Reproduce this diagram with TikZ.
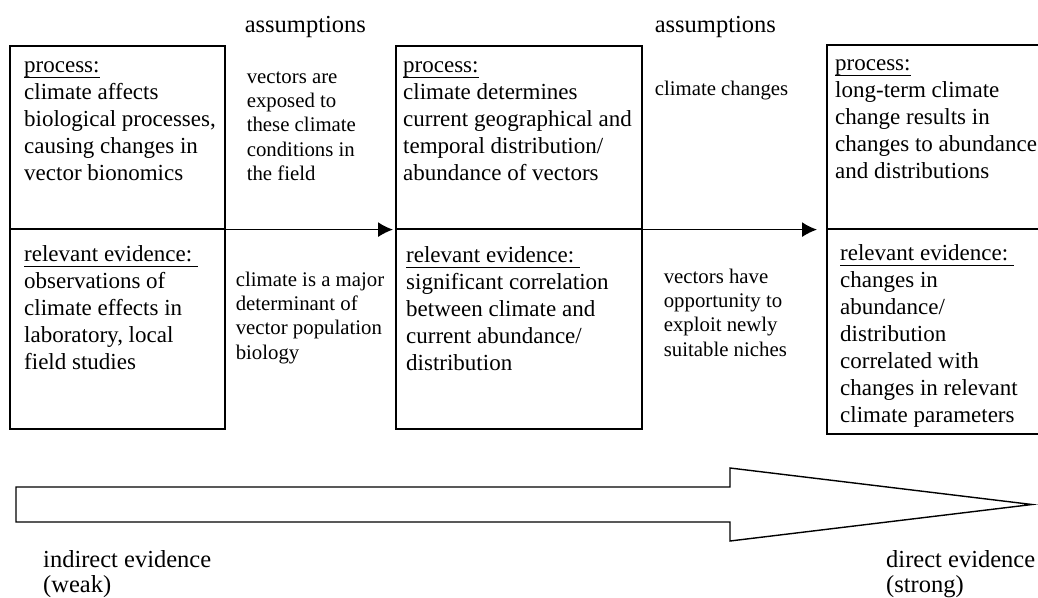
\documentclass[tikz,border=0pt]{standalone}
\usepackage{fontspec}
\setmainfont{Liberation Serif}
\usetikzlibrary{arrows.meta}
\usetikzlibrary{calc}
\newsavebox\hdbox
\newcommand\hd[1]{\sbox\hdbox{#1}\rlap{\rule[-5.7pt]{\wd\hdbox}{1.4pt}}\usebox\hdbox}
\tikzset{box/.style={draw = black, line width = 1.6pt, inner sep = 0, anchor = north west}}
% text is placed by the baseline of its first line (each text starts with a \strut)
\tikzset{boxtext/.style={anchor = north west, yshift = 18.9pt, inner sep = 0, align = left,
  font = \fontsize{23}{27}\selectfont}}
\tikzset{assumtext/.style={anchor = north west, yshift = 17pt, inner sep = 0, align = left,
  font = \fontsize{20.8}{24.3}\selectfont}}
\tikzset{headtext/.style={anchor = north west, yshift = 17.5pt, inner sep = 0, align = left,
  font = \fontsize{24.5}{25}\selectfont}}
\tikzset{flow/.style={-{Latex[length=15pt, width=15pt]}, line width = 1.4pt}}

\begin{document}
\begin{tikzpicture}[x = 1pt, y = -1pt]
  \useasboundingbox (0,0) rectangle (1038,597);
  % the three stages, each split in process / evidence
  \node[box, minimum width = 215pt, minimum height = 183pt] (proc1) at (9,45) {};
  \node[box, minimum width = 215pt, minimum height = 200pt] (evid1) at (9,228) {};
  \node[box, minimum width = 246pt, minimum height = 183pt] (proc2) at (395,45) {};
  \node[box, minimum width = 246pt, minimum height = 200pt] (evid2) at (395,228) {};
  \node[box, minimum width = 244pt, minimum height = 184pt] (proc3) at (826,44) {};
  \node[box, minimum width = 244pt, minimum height = 205pt] (evid3) at (826,228) {};

  \node[boxtext] (ptext1) at ($(proc1.north west) + (15,27)$)
    {\strut\hd{process:}\\climate affects\\biological processes,\\causing changes in\\vector bionomics};
  \node[boxtext] (etext1) at ($(evid1.north west) + (15,33)$)
    {\strut\hd{relevant evidence:\ }\\observations of\\climate effects in\\laboratory, local\\field studies};
  \node[boxtext] (ptext2) at ($(proc2.north west) + (8,27)$)
    {\strut\hd{process:}\\climate determines\\current geographical and\\temporal distribution/\\abundance of vectors};
  \node[boxtext] (etext2) at ($(evid2.north west) + (11,34)$)
    {\strut\hd{relevant evidence:\ }\\significant correlation\\between climate and\\current abundance/\\distribution};
  \node[boxtext] (ptext3) at ($(proc3.north west) + (9,26)$)
    {\strut\hd{process:}\\long-term climate\\change results in\\changes to abundance\\and distributions};
  \node[boxtext] (etext3) at ($(evid3.north west) + (14,32)$)
    {\strut\hd{relevant evidence:\ }\\changes in\\abundance/\\distribution\\correlated with\\changes in relevant\\climate parameters};

  % assumptions between the stages
  \node[headtext] (assum1) at ($(proc1.north east) + (19,-13)$) {\strut assumptions};
  \node[headtext] (assum2) at ($(proc2.north east) + (12,-13)$) {\strut assumptions};
  \node[assumtext] (aup1) at ($(proc1.north east) + (21,38)$)
    {\strut vectors are\\exposed to\\these climate\\conditions in\\the field};
  \node[assumtext] (alow1) at ($(evid1.north east) + (10,58)$)
    {\strut climate is a major\\determinant of\\vector population\\biology};
  \node[assumtext] (aup2) at ($(proc2.north east) + (12,50)$) {\strut climate changes};
  \node[assumtext] (alow2) at ($(evid2.north east) + (21,55)$)
    {\strut vectors have\\opportunity to\\exploit newly\\suitable niches};

  \draw[flow, shorten >= 2pt] (proc1.south east) -- (proc2.south west);
  \draw[flow, shorten >= 9pt] (proc2.south east) -- (proc3.south west);

  % strength of evidence
  \draw[line width = 1.4pt] (16,487) -- (730,487) -- (730,468) -- (1032,504.5)
    -- (730,541) -- (730,522) -- (16,522) -- cycle;
  \node[headtext] (weak) at (43,567) {\strut indirect evidence\\(weak)};
  \node[headtext] (strong) at (886,567) {\strut direct evidence\\(strong)};
\end{tikzpicture}
\end{document}
